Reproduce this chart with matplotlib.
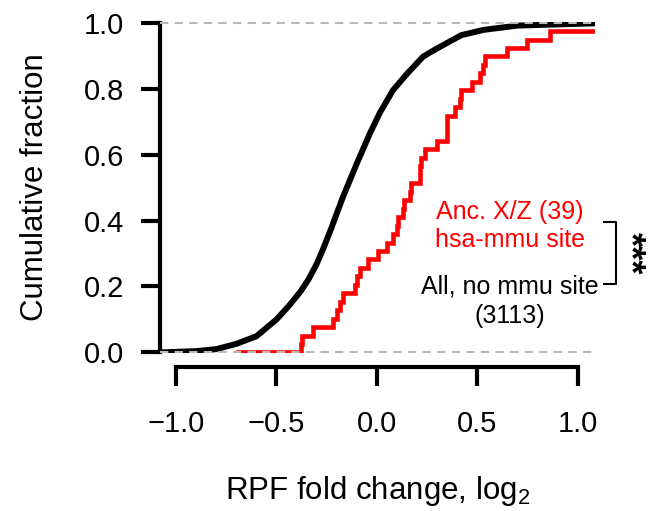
import numpy as np
import matplotlib
matplotlib.use("Agg")
import matplotlib.pyplot as plt

plt.rcParams["font.family"] = ["Liberation Sans", "DejaVu Sans"]
plt.rcParams["mathtext.fontset"] = "custom"
plt.rcParams["mathtext.rm"] = "Liberation Sans"
plt.rcParams["mathtext.default"] = "regular"

# -----------------------------
# Data
# -----------------------------

# all genes without mmu site (3113), smooth CDF
all_x = [-1.08, -0.90, -0.80, -0.70, -0.60, -0.50, -0.44, -0.38, -0.34, -0.30,
         -0.265, -0.23, -0.17, -0.10, -0.035, 0.015, 0.08, 0.15, 0.23, 0.28,
         0.33, 0.42, 0.53, 0.70, 0.86, 1.09]
all_y = [0.0, 0.004, 0.010, 0.026, 0.049, 0.100, 0.140, 0.185, 0.222, 0.268,
         0.318, 0.372, 0.470, 0.573, 0.664, 0.727, 0.795, 0.845, 0.897, 0.915,
         0.932, 0.962, 0.978, 0.991, 0.994, 0.998]

# Anc. X/Z genes with hsa-mmu site (39)
anc_start = -0.69
anc_vals = [-0.378, -0.372, -0.317, -0.217, -0.200, -0.184, -0.167, -0.109,
            -0.101, -0.085, -0.043, 0.007, 0.048, 0.081, 0.098, 0.106, 0.131,
            0.135, 0.164, 0.168, 0.214, 0.216, 0.219, 0.239, 0.297, 0.347,
            0.349, 0.351, 0.388, 0.413, 0.421, 0.471, 0.512, 0.529, 0.537,
            0.648, 0.745, 0.861, 1.25]

x_ticks = [-1.0, -0.5, 0.0, 0.5, 1.0]
y_ticks = [0.0, 0.2, 0.4, 0.6, 0.8, 1.0]

# -----------------------------
# Plot
# -----------------------------

fig = plt.figure(figsize=(6.54, 5.11), dpi=100)
ax = fig.add_axes([0.2446, 0.309, 0.665, 0.648])

n = len(anc_vals)
red_x = [anc_start] + anc_vals
red_y = [0] + [(i + 1) / n for i in range(n)]
ax.plot(red_x, red_y, drawstyle="steps-post", color="#ff0000", lw=3.3,
        solid_joinstyle="miter", zorder=2)

ax.plot(all_x, all_y, color="black", lw=4.3, zorder=3)

ax.axhline(0, color="#b8b8b8", lw=1.5, ls=(0, (4, 3)), zorder=4)
ax.axhline(1, color="#b8b8b8", lw=1.5, ls=(0, (4, 3)), zorder=4)

ax.set_xlim(-1.08, 1.085)
ax.set_ylim(-0.002, 1.002)

for s in ["top", "right"]:
    ax.spines[s].set_visible(False)
ax.spines["left"].set_linewidth(3)
ax.spines["bottom"].set_linewidth(3)
ax.spines["left"].set_bounds(0, 1)
ax.spines["bottom"].set_bounds(-1, 1)
ax.spines["bottom"].set_position(("outward", 10))

ax.set_xticks(x_ticks)
ax.set_xticklabels(["\u22121.0", "\u22120.5", "0.0", "0.5", "1.0"])
ax.set_yticks(y_ticks)
ax.set_yticklabels(["%.1f" % v for v in y_ticks])
ax.tick_params(axis="both", width=3, length=14, labelsize=21)
ax.tick_params(axis="x", pad=17)
ax.tick_params(axis="y", pad=12)

ax.set_xlabel("RPF fold change, log$_2$", fontsize=22.5, labelpad=26)
ax.set_ylabel("Cumulative fraction", fontsize=22.5, labelpad=24)

# annotations
ax.text(0.66, 0.426, "Anc. X/Z (39)", color="#ff0000", fontsize=18,
        ha="center", va="center")
ax.text(0.66, 0.341, "hsa-mmu site", color="#ff0000", fontsize=18,
        ha="center", va="center")
ax.text(0.66, 0.199, "All, no mmu site", color="black", fontsize=18,
        ha="center", va="center")
ax.text(0.66, 0.109, "(3113)", color="black", fontsize=18,
        ha="center", va="center")

# significance bracket
ax.plot([1.13, 1.19, 1.19, 1.13], [0.396, 0.396, 0.208, 0.208],
        color="black", lw=1.5, clip_on=False)
ax.text(1.255, 0.302, "***", rotation=270, fontsize=26, ha="center",
        va="center", fontweight="bold", clip_on=False)

fig.savefig("out.png", dpi=100)
